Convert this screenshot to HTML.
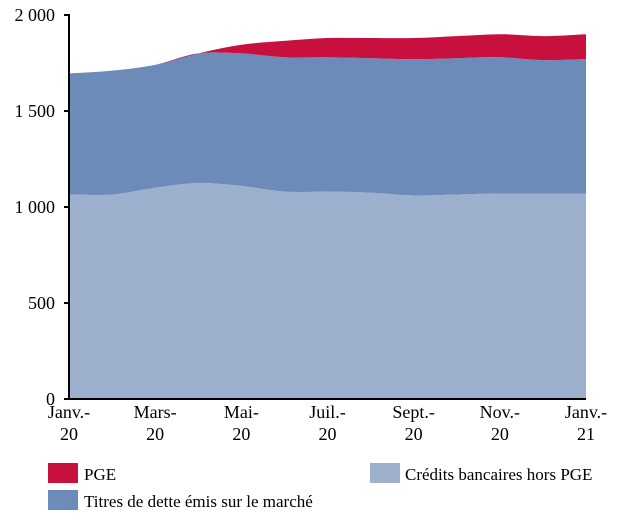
<!DOCTYPE html>
<html><head><meta charset="utf-8"><style>
body{margin:0;background:#fff;}
svg{display:block;font-family:"Liberation Serif",serif;}
</style></head><body>
<svg id="chart" width="640" height="524" viewBox="0 0 640 524">
<g id="areas"></g>
<g id="axes"></g>
<g>
<rect x="48" y="463" width="30" height="20" fill="#C8103E"/>
<text x="84" y="480" font-size="17">PGE</text>
<rect x="370" y="463" width="30" height="20" fill="#9DB0CE"/>
<text x="405" y="480" font-size="17">Crédits bancaires hors PGE</text>
<rect x="48" y="490" width="30" height="20" fill="#6D8BB8"/>
<text x="84" y="507" font-size="17">Titres de dette émis sur le marché</text>
</g>
</svg>
<script>
const months = ["Janv.-20","Févr.-20","Mars-20","Avr.-20","Mai-20","Juin-20","Juil.-20","Août-20","Sept.-20","Oct.-20","Nov.-20","Déc.-20","Janv.-21"];
const credits = [1065,1065,1100,1125,1110,1080,1080,1075,1060,1065,1070,1070,1070];
const titres = [630,645,640,675,690,700,700,700,710,710,710,695,700];
const pge = [0,0,0,0,45,85,100,105,110,115,120,125,130];
const yTicks = [0,500,1000,1500,2000];
const yTickLabels = ["0","500","1 000","1 500","2 000"];
const xTickIdx = [0,2,4,6,8,10,12];
const xTickLine1 = ["Janv.-","Mars-","Mai-","Juil.-","Sept.-","Nov.-","Janv.-"];
const xTickLine2 = ["20","20","20","20","20","20","21"];

const NS="http://www.w3.org/2000/svg";
const x0=69,x1=586,yb=399,yt=15;
const xs=i=>x0+(x1-x0)*i/(months.length-1);
const ys=v=>yb-(yb-yt)*v/2000;
function spline(pts){
  let d="";
  for(let i=0;i<pts.length-1;i++){
    const p0=pts[Math.max(i-1,0)],p1=pts[i],p2=pts[i+1],p3=pts[Math.min(i+2,pts.length-1)];
    const c1=[p1[0]+(p2[0]-p0[0])/6,p1[1]+(p2[1]-p0[1])/6];
    const c2=[p2[0]-(p3[0]-p1[0])/6,p2[1]-(p3[1]-p1[1])/6];
    d+=`C${c1[0]},${c1[1]} ${c2[0]},${c2[1]} ${p2[0]},${p2[1]}`;
  }
  return d;
}
function band(lo,hi){
  const top=hi.map((v,i)=>[xs(i),ys(v)]);
  const bot=lo.map((v,i)=>[xs(i),ys(v)]).reverse();
  return `M${top[0][0]},${top[0][1]}`+spline(top)+`L${bot[0][0]},${bot[0][1]}`+spline(bot)+"Z";
}
const base=credits.map(()=>0);
const l1=credits.slice();
const l2=credits.map((v,i)=>v+titres[i]);
const l3=l2.map((v,i)=>v+pge[i]);
const areas=document.getElementById("areas");
[[base,l1,"#9DB0CE","area-credits"],[l1,l2,"#6D8BB8","area-titres"],[l2,l3,"#C8103E","area-pge"]].forEach(a=>{
  const p=document.createElementNS(NS,"path");
  p.setAttribute("d",band(a[0],a[1]));
  p.setAttribute("fill",a[2]);
  
  
  areas.appendChild(p);
});
const ax=document.getElementById("axes");
function line(x1_,y1_,x2_,y2_,name){
  const l=document.createElementNS(NS,"line");
  l.setAttribute("x1",x1_);l.setAttribute("y1",y1_);l.setAttribute("x2",x2_);l.setAttribute("y2",y2_);
  l.setAttribute("stroke","#000");l.setAttribute("stroke-width","2");
  
  
  ax.appendChild(l);
}
line(x0,yt-1,x0,yb,"y-axis");
line(x0-5,yb,x1,yb,"x-axis");
yTicks.forEach((v,i)=>{
  line(x0-5,ys(v),x0,ys(v),"y-tick");
  const t=document.createElementNS(NS,"text");
  t.setAttribute("x",x0-14);t.setAttribute("y",ys(v)+6);
  t.setAttribute("text-anchor","end");t.setAttribute("font-size","18");
  t.textContent=yTickLabels[i];
  
  
  ax.appendChild(t);
});
xTickIdx.forEach((idx,k)=>{
  [xTickLine1[k],xTickLine2[k]].forEach((s,j)=>{
    const t=document.createElementNS(NS,"text");
    t.setAttribute("x",xs(idx));t.setAttribute("y",yb+19+j*22);
    t.setAttribute("text-anchor","middle");t.setAttribute("font-size","18");
    t.textContent=s;
    
    
    ax.appendChild(t);
  });
});
</script>
</body></html>
